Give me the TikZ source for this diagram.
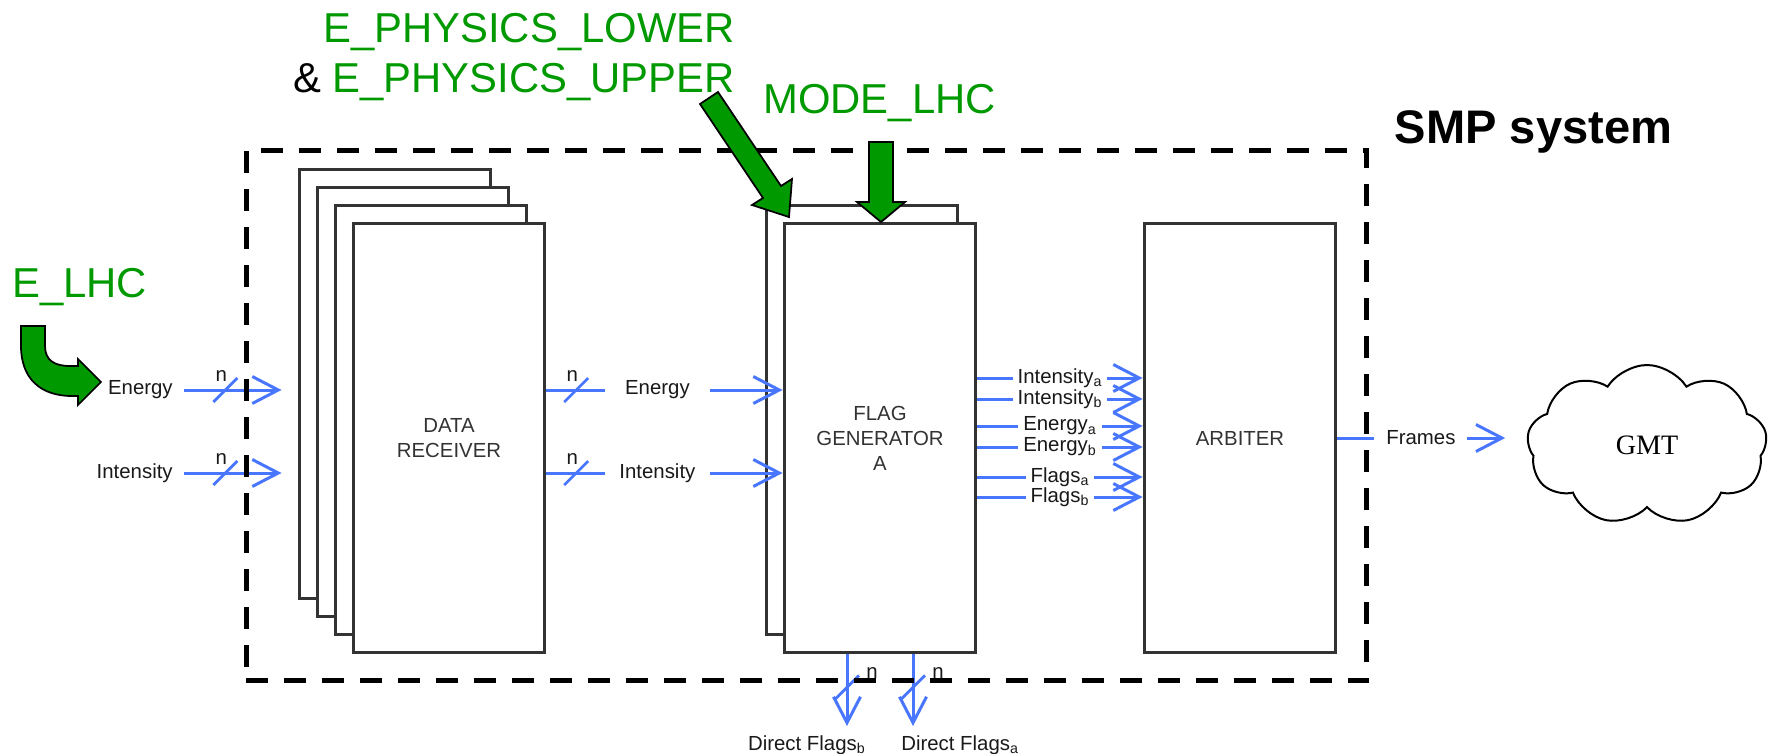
\documentclass[tikz,border=0pt]{standalone}
\usepackage{fontspec}
\setmainfont{Liberation Sans}
\newfontfamily\gmtfont{Liberation Serif}
\usepackage{tikz}
\usetikzlibrary{arrows.meta,positioning,calc,shapes.symbols}

\definecolor{physgreen}{RGB}{0,153,0}
\definecolor{busblue}{RGB}{72,118,255}
\definecolor{boxgray}{RGB}{51,51,51}

% bus width marks: slash with its "n"
\tikzset{
  hbus/.pic={\draw[-, shorten <=0pt, shorten >=0pt, busblue, line width=0.055cm] (-12,12) -- (12,-12);
    \node[lbl] at (-4,-14) {n};},
  vbus/.pic={\draw[-, shorten <=0pt, shorten >=0pt, busblue, line width=0.055cm] (-12,12) -- (12,-12);
    \node[lbl] at (25,-14) {n};}
}

\begin{document}
\begin{tikzpicture}[x=0.02cm, y=-0.02cm,
  card/.style={draw=boxgray, line width=0.06cm, fill=white, minimum width=3.84cm,
    minimum height=8.6cm, inner sep=0pt, align=center, text=boxgray,
    font=\fontsize{11.6}{14.2}\selectfont},
  lbl/.style={inner sep=0pt, font=\fontsize{11.6}{14}\selectfont, text=black!90},
  gap/.style={lbl, fill=white, inner xsep=0.1cm, inner ysep=0pt},
  flow/.style={busblue, line width=0.06cm, -{Straight Barb[length=0.52cm, width=0.54cm]}},
  bigtag/.style={inner sep=0pt, font=\fontsize{23.8}{28.5}\selectfont, text=physgreen},
  sysbox/.style={draw=black, line width=0.1cm, dash pattern=on 0.44cm off 0.32cm,
    minimum width=22.42cm, minimum height=10.62cm, inner sep=0pt},
  fat/.style={draw=black, line width=0.035cm, fill=physgreen, line join=miter}
]
  \useasboundingbox (0,0) rectangle (1772,754);

  % data receiver stack
  \foreach \i in {1,...,3}
    \node[card] (dr\i) at ({377+18*\i},{366+18*\i}) {};
  \node[card] (dr4) at (449,438) {DATA\\RECEIVER};

  % flag generator and arbiter
  \node[card] (fgb) at (862,420) {};
  \node[card] (fg) at (880,438) {FLAG\\GENERATOR\\A};
  \node[card] (arb) at (1240,438) {ARBITER};

  \node[cloud, draw, line width=0.04cm, cloud puffs=9, cloud puff arc=115, aspect=1.5,
    minimum width=4.8cm, minimum height=3.2cm, inner sep=0pt,
    font=\gmtfont\fontsize{16}{18}\selectfont] (gmt) at (1647,445) {GMT};

  % inputs
  \node[lbl, anchor=east] (inE) at (173,390) {Energy};
  \node[lbl, anchor=east] (inI) at (173,473) {Intensity};
  \draw[flow, shorten <=0.22cm, shorten >=0.32cm] (inE.east) -- pic[pos=.42]{hbus} (dr1.west |- inE);
  \draw[flow, shorten <=0.22cm, shorten >=0.32cm] (inI.east) -- pic[pos=.42]{hbus} (dr1.west |- inI);

  % receiver to generator
  \draw[flow] (dr4.east |- inE) -- pic[pos=.126]{hbus}
    node[gap, pos=.47, minimum width=2.1cm] {Energy} (fg.west |- inE);
  \draw[flow] (dr4.east |- inI) -- pic[pos=.126]{hbus}
    node[gap, pos=.47, minimum width=2.1cm] {Intensity} (fg.west |- inI);

  % generator to arbiter
  \foreach \yy/\txt in {378/Intensity\textsubscript{a}, 399/Intensity\textsubscript{b},
      426/Energy\textsubscript{a}, 447/Energy\textsubscript{b},
      477/Flags\textsubscript{a}, 497/Flags\textsubscript{b}} {
    \coordinate (o) at (0,\yy);
    \draw[flow] (fg.east |- o) -- node[gap] {\txt} (arb.west |- o);
  }

  % arbiter to GMT
  \draw[flow, shorten >=0.44cm] (arb.east) -- node[gap, pos=.44, inner xsep=0.24cm] {Frames}
    (arb.east -| gmt.west);

  % direct flags
  \coordinate (dfb) at (847,726);
  \coordinate (dfa) at (913,726);
  \draw[flow] (fg.south -| dfb) -- pic[pos=.46]{vbus} (dfb);
  \draw[flow] (fg.south -| dfa) -- pic[pos=.46]{vbus} (dfa);
  \node[lbl, anchor=north east] (dflb) at ([xshift=0.38cm, yshift=-0.18cm]dfb) {Direct Flags\textsubscript{b}};
  \node[lbl, anchor=north west] (dfla) at ([xshift=-0.24cm, yshift=-0.18cm]dfa) {Direct Flags\textsubscript{a}};

  % system boundary
  \node[sysbox] (smp) at (806.5,415.5) {};
  \node[inner sep=0pt, anchor=base west, font=\bfseries\fontsize{26.8}{32}\selectfont]
    (smpname) at ([xshift=0.5cm, yshift=0.08cm]smp.north east) {SMP system};

  % parameters
  \node[bigtag, anchor=base west] (elhc) at (12,297) {E\_LHC};
  \node[bigtag, anchor=base east] (ephlo) at (735,42) {E\_PHYSICS\_LOWER};
  \node[bigtag, anchor=base east] (ephup) at (735,92) {\textcolor{black}{\&} E\_PHYSICS\_UPPER};
  \node[bigtag, anchor=base west] (mode) at (763,113) {MODE\_LHC};

  \draw[fat] (21,326) -- (45,326) -- (45,346) .. controls (45,360) and (54,366) .. (70,366)
    -- (78,366) -- (78,359) -- (101,382) -- (78,405) -- (78,396) -- (72,396)
    .. controls (40,396) and (21,378) .. (21,346) -- cycle;
  \draw[fat] (718,92) -- (781,186) -- (792,179) -- (789,217) -- (752,205) -- (763,198)
    -- (700,104) -- cycle;
  \draw[fat] (869,142) -- (893,142) -- (893,202) -- (905,202) -- (881,222) -- (857,202)
    -- (869,202) -- cycle;
\end{tikzpicture}
\end{document}
